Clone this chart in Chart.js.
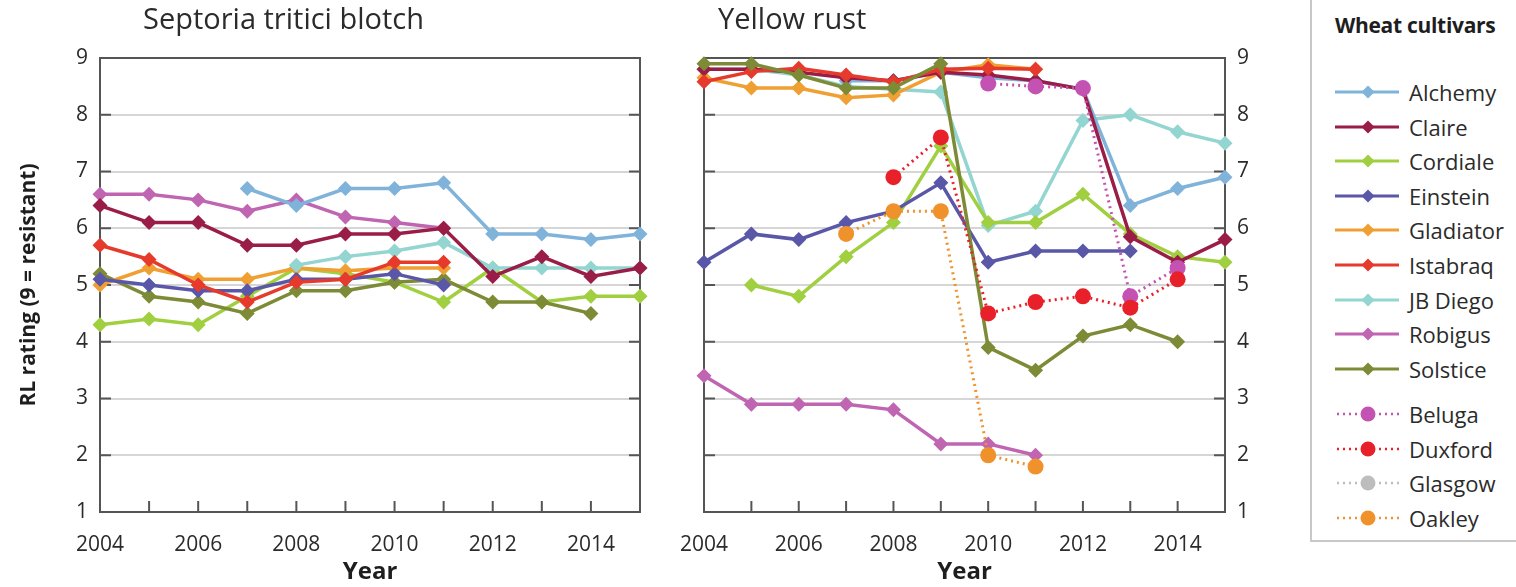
<!DOCTYPE html>
<html>
<head>
<meta charset="utf-8">
<script src="https://cdn.jsdelivr.net/npm/chart.js@4.4.1/dist/chart.umd.min.js"></script>
<style>
body { margin: 0; width: 1516px; height: 587px; background: #fff; position: relative; overflow: hidden; font-family: "Open Sans", sans-serif; color: #2b2b2b; }
canvas { position: absolute; top: 0; }
.paneltitle { position: absolute; top: -2px; font-size: 29px; color: #2b2b2b; }
#legend { position: absolute; left: 1310px; top: -4px; width: 230px; height: 546px; border: 2px solid #c8c8c8; box-sizing: border-box; }
#legend .head { position: absolute; left: 23px; top: 13px; font-size: 21px; font-weight: bold; color: #1e1e1e; letter-spacing: -0.3px; }
#legend .item { position: absolute; left: 23px; height: 26px; font-size: 22px; line-height: 26px; color: #2b2b2b; }
#legend svg { position: absolute; left: 0; top: 1px; }
#legend span { position: absolute; left: 74px; top: 0; white-space: nowrap; }
</style>
</head>
<body>
<canvas id="stb" width="660" height="587" style="left:0"></canvas>
<canvas id="yr" width="640" height="587" style="left:660px"></canvas>
<div class="paneltitle" style="left:143px">Septoria tritici blotch</div>
<div class="paneltitle" style="left:718px">Yellow rust</div>
<div id="legend"><div class="head">Wheat cultivars</div></div>
<script>
const years = [2004, 2005, 2006, 2007, 2008, 2009, 2010, 2011, 2012, 2013, 2014, 2015];
const yTicks = [1, 2, 3, 4, 5, 6, 7, 8, 9];
const cultivars = ['Alchemy', 'Claire', 'Cordiale', 'Einstein', 'Gladiator', 'Istabraq', 'JB Diego', 'Robigus', 'Solstice'];
const newCultivars = ['Beluga', 'Duxford', 'Glasgow', 'Oakley'];

// Septoria tritici blotch ratings
const stbAlchemy   = [null, null, null, 6.7, 6.4, 6.7, 6.7, 6.8, 5.9, 5.9, 5.8, 5.9];
const stbClaire    = [6.4, 6.1, 6.1, 5.7, 5.7, 5.9, 5.9, 6.0, 5.15, 5.5, 5.15, 5.3];
const stbCordiale  = [4.3, 4.4, 4.3, 4.8, 5.3, 5.2, 5.05, 4.7, 5.3, 4.7, 4.8, 4.8];
const stbEinstein  = [5.1, 5.0, 4.9, 4.9, 5.1, 5.1, 5.2, 5.0, null, null, null, null];
const stbGladiator = [5.0, 5.3, 5.1, 5.1, 5.3, 5.25, 5.3, 5.3, null, null, null, null];
const stbIstabraq  = [5.7, 5.45, 5.0, 4.7, 5.05, 5.1, 5.4, 5.4, null, null, null, null];
const stbJBDiego   = [null, null, null, null, 5.35, 5.5, 5.6, 5.75, 5.3, 5.3, 5.3, 5.3];
const stbRobigus   = [6.6, 6.6, 6.5, 6.3, 6.5, 6.2, 6.1, 6.0, null, null, null, null];
const stbSolstice  = [5.2, 4.8, 4.7, 4.5, 4.9, 4.9, 5.05, 5.1, 4.7, 4.7, 4.5, null];

// Yellow rust ratings
const yrAlchemy   = [null, null, null, 8.6, 8.6, 8.75, 8.65, 8.6, 8.45, 6.4, 6.7, 6.9];
const yrClaire    = [8.8, 8.8, 8.75, 8.65, 8.6, 8.75, 8.7, 8.6, 8.45, 5.85, 5.4, 5.8];
const yrCordiale  = [null, 5.0, 4.8, 5.5, 6.1, 7.45, 6.1, 6.1, 6.6, 5.9, 5.5, 5.4];
const yrEinstein  = [5.4, 5.9, 5.8, 6.1, 6.3, 6.8, 5.4, 5.6, 5.6, 5.6, null, null];
const yrGladiator = [8.65, 8.47, 8.47, 8.3, 8.35, 8.75, 8.88, 8.8, null, null, null, null];
const yrIstabraq  = [8.58, 8.76, 8.82, 8.7, 8.58, 8.8, 8.82, 8.8, null, null, null, null];
const yrJBDiego   = [8.8, 8.8, 8.7, 8.5, 8.45, 8.4, 6.05, 6.3, 7.9, 8.0, 7.7, 7.5];
const yrRobigus   = [3.4, 2.9, 2.9, 2.9, 2.8, 2.2, 2.2, 2.0, null, null, null, null];
const yrSolstice  = [8.9, 8.9, 8.7, 8.47, 8.47, 8.9, 3.9, 3.5, 4.1, 4.3, 4.0, null];
const yrBeluga    = [null, null, null, null, null, null, 8.55, 8.5, 8.47, 4.8, 5.3, null];
const yrDuxford   = [null, null, null, null, 6.9, 7.6, 4.5, 4.7, 4.8, 4.6, 5.1, null];
const yrGlasgow   = [null, null, null, null, null, null, null, null, null, null, null, null];
const yrOakley    = [null, null, null, 5.9, 6.3, 6.3, 2.0, 1.8, null, null, null, null];

const colours = {
    'Alchemy': '#80b3da', 'Claire': '#9a1d47', 'Cordiale': '#a0cf3f', 'Einstein': '#5a57a8',
    'Gladiator': '#f0a032', 'Istabraq': '#e63a2c', 'JB Diego': '#93d5d0', 'Robigus': '#c065b2',
    'Solstice': '#7d8b36', 'Beluga': '#c452b2', 'Duxford': '#e8202a', 'Glasgow': '#bdbdbd', 'Oakley': '#f0922c'
};

const fontFam = '"Open Sans", sans-serif';

function solid(name, data, order) {
    return {
        label: name, data: data, borderColor: colours[name], backgroundColor: colours[name],
        borderWidth: 3.5, pointStyle: 'rectRot', pointRadius: 7.5, pointBorderWidth: 0,
        tension: 0, clip: false, order: order
    };
}
function dotted(name, data, order) {
    return {
        label: name, data: data, borderColor: colours[name], backgroundColor: colours[name],
        borderWidth: 3, borderDash: [2, 4], pointStyle: 'circle', pointRadius: 8, pointBorderWidth: 0,
        tension: 0, clip: false, order: order
    };
}

// box round the plot area plus the short inward ticks
const frame = {
    id: 'frame',
    beforeDatasetsDraw(chart) {
        const a = chart.chartArea, ctx = chart.ctx;
        const xs = chart.scales.x, ys = chart.scales.y;
        ctx.save();
        ctx.strokeStyle = '#555';
        ctx.lineWidth = 2;
        ctx.beginPath();
        years.forEach((yr, i) => {
            if (i === 0 || i === years.length - 1) return;
            const px = xs.getPixelForValue(i);
            ctx.moveTo(px, a.bottom);
            ctx.lineTo(px, a.bottom - 11);
        });
        yTicks.forEach(v => {
            if (v === 1 || v === 9) return;
            const py = ys.getPixelForValue(v);
            ctx.moveTo(a.left, py); ctx.lineTo(a.left + 11, py);
            ctx.moveTo(a.right, py); ctx.lineTo(a.right - 11, py);
        });
        ctx.stroke();
        ctx.strokeRect(a.left, a.top, a.right - a.left, a.bottom - a.top);
        ctx.restore();
    }
};

function makeChart(id, datasets, side) {
    const left = side === 'left';
    return new Chart(document.getElementById(id), {
        type: 'line',
        data: { labels: years, datasets: datasets },
        options: {
            responsive: false,
            animation: false,
            devicePixelRatio: 1,
            layout: { padding: { top: 58, left: left ? 0 : 23, right: left ? 20 : 0, bottom: 0 } },
            plugins: { legend: { display: false }, tooltip: { enabled: false } },
            scales: {
                x: {
                    offset: false,
                    grid: { display: false, drawTicks: false },
                    border: { display: false },
                    ticks: {
                        autoSkip: false, maxRotation: 0, padding: 20, color: '#2b2b2b',
                        font: { family: fontFam, size: 21 },
                        callback: function(val, i) { return years[i] % 2 === 0 ? String(years[i]) : ''; }
                    },
                    title: {
                        display: true, text: 'Year', color: '#1e1e1e', padding: { top: 0, bottom: 0 },
                        font: { family: fontFam, size: 24, weight: 'bold' }
                    },
                    afterFit: s => { s.height = 75; }
                },
                y: {
                    position: side,
                    min: 1, max: 9,
                    grid: { color: '#d6d6d6', lineWidth: 2, drawTicks: false },
                    border: { display: false },
                    ticks: { stepSize: 1, padding: 12, color: '#2b2b2b', font: { family: fontFam, size: 21 } },
                    title: {
                        display: left, text: 'RL rating (9 = resistant)', color: '#1e1e1e', padding: { top: 16, bottom: 0 },
                        font: { family: fontFam, size: 21, weight: 'bold' }
                    },
                    afterFit: s => { s.width = left ? 100 : 75; }
                }
            }
        },
        plugins: [frame]
    });
}

makeChart('stb', [
    solid('Alchemy', stbAlchemy, 1), solid('Claire', stbClaire, 2), solid('Cordiale', stbCordiale, 9),
    solid('Einstein', stbEinstein, 6), solid('Gladiator', stbGladiator, 7), solid('Istabraq', stbIstabraq, 4),
    solid('JB Diego', stbJBDiego, 5), solid('Robigus', stbRobigus, 3), solid('Solstice', stbSolstice, 8)
], 'left');

makeChart('yr', [
    solid('Alchemy', yrAlchemy, 8), solid('Claire', yrClaire, 4), solid('Cordiale', yrCordiale, 9),
    solid('Einstein', yrEinstein, 6), solid('Gladiator', yrGladiator, 7), solid('Istabraq', yrIstabraq, 3),
    solid('JB Diego', yrJBDiego, 10), solid('Robigus', yrRobigus, 5), solid('Solstice', yrSolstice, 2),
    dotted('Beluga', yrBeluga, 1), dotted('Duxford', yrDuxford, 0), dotted('Glasgow', yrGlasgow, 11),
    dotted('Oakley', yrOakley, 1)
], 'right');

// legend box
const legend = document.getElementById('legend');
function addItem(name, top, isDotted) {
    const c = colours[name];
    const d = document.createElement('div');
    d.className = 'item';
    d.style.top = top + 'px';
    let svg = '<svg width="66" height="24">';
    if (isDotted) {
        svg += '<line x1="2" y1="12" x2="64" y2="12" stroke="' + c + '" stroke-width="2.5" stroke-dasharray="2,4"/>' +
               '<circle cx="33" cy="12" r="7.5" fill="' + c + '"/>';
    } else {
        svg += '<line x1="0" y1="12" x2="64" y2="12" stroke="' + c + '" stroke-width="3"/>' +
               '<polygon points="33,5.5 39.5,12 33,18.5 26.5,12" fill="' + c + '"/>';
    }
    svg += '</svg>';
    d.innerHTML = svg + '<span>' + name + '</span>';
    legend.appendChild(d);
}
cultivars.forEach((n, i) => addItem(n, 81 + i * 34.6, false));
newCultivars.forEach((n, i) => addItem(n, 403 + i * 34.7, true));
</script>
</body>
</html>
